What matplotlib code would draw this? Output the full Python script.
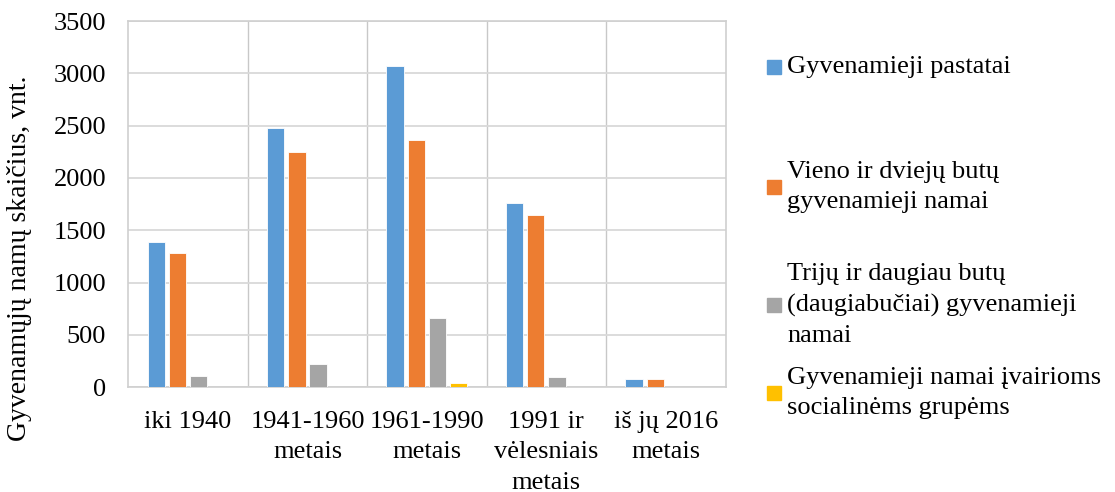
import numpy as np
import matplotlib
matplotlib.use('Agg')
from matplotlib import pyplot as plt
from matplotlib.patches import Rectangle

plt.rcParams['font.family'] = ['Liberation Serif', 'DejaVu Serif']

categories = ['iki 1940', '1941-1960\nmetais', '1961-1990\nmetais',
              '1991 ir\nvėlesniais\nmetais', 'iš jų 2016\nmetais']
series = ['Gyvenamieji pastatai',
          'Vieno ir dviejų butų\ngyvenamieji namai',
          'Trijų ir daugiau butų\n(daugiabučiai) gyvenamieji\nnamai',
          'Gyvenamieji namai įvairioms\nsocialinėms grupėms']
pastatai = [1388, 2481, 3073, 1764, 80]
vieno_dvieju = [1280, 2251, 2360, 1649, 79]
triju = [108, 220, 659, 98, 0]
socialiniai = [0, 0, 44, 0, 0]
colors = ['#5B9BD5', '#ED7D31', '#A5A5A5', '#FFC000']

fs = 19
ls = 1.5

fig = plt.figure(figsize=(11.15, 4.92), dpi=100)
ax = fig.add_axes([0.1151, 0.2128, 0.5356, 0.7445])

x = np.arange(len(categories))
w = 0.145
step = 0.178
data = [pastatai, vieno_dvieju, triju, socialiniai]
for i, vals in enumerate(data):
    ax.bar(x + (i - 1.5) * step, vals, w, color=colors[i],
           edgecolor='white', linewidth=0.6, zorder=3)

ax.set_xlim(-0.5, len(categories) - 0.5)
ax.set_ylim(0, 3500)
ax.set_yticks(np.arange(0, 3501, 500))
ax.set_xticks(x)
ax.set_xticklabels(categories, fontsize=fs, linespacing=ls)
ax.set_xticks(np.arange(0.5, len(categories) - 0.5, 1), minor=True)
ax.tick_params(axis='both', length=0, labelsize=fs)
ax.tick_params(axis='y', pad=16)
ax.tick_params(axis='x', pad=17)
ax.tick_params(which='minor', length=0)
ax.grid(axis='y', color='#d9d9d9', linewidth=1.3, zorder=0)
ax.grid(axis='x', which='minor', color='#c8c8c8', linewidth=1.0, zorder=0)
for s in ax.spines.values():
    s.set_color('#cfcfcf')
    s.set_linewidth(1.2)

fig.text(20 / 1115, 1 - 258 / 492, 'Gyvenamųjų namų skaičius, vnt.',
         rotation=90, fontsize=20, ha='center', va='center')

# legend drawn by hand to keep Excel-like spacing
leg_y = [67, 187, 305, 393]
W, H = 1115, 492
for i, lab in enumerate(series):
    fig.patches.append(Rectangle((767 / W, 1 - (leg_y[i] + 7) / H), 14 / W, 14 / H,
                                 transform=fig.transFigure, color=colors[i]))
    fig.text(787 / W, 1 - leg_y[i] / H, lab, fontsize=fs, ha='left', va='center',
             linespacing=ls)

fig.savefig('out.png', dpi=100)
